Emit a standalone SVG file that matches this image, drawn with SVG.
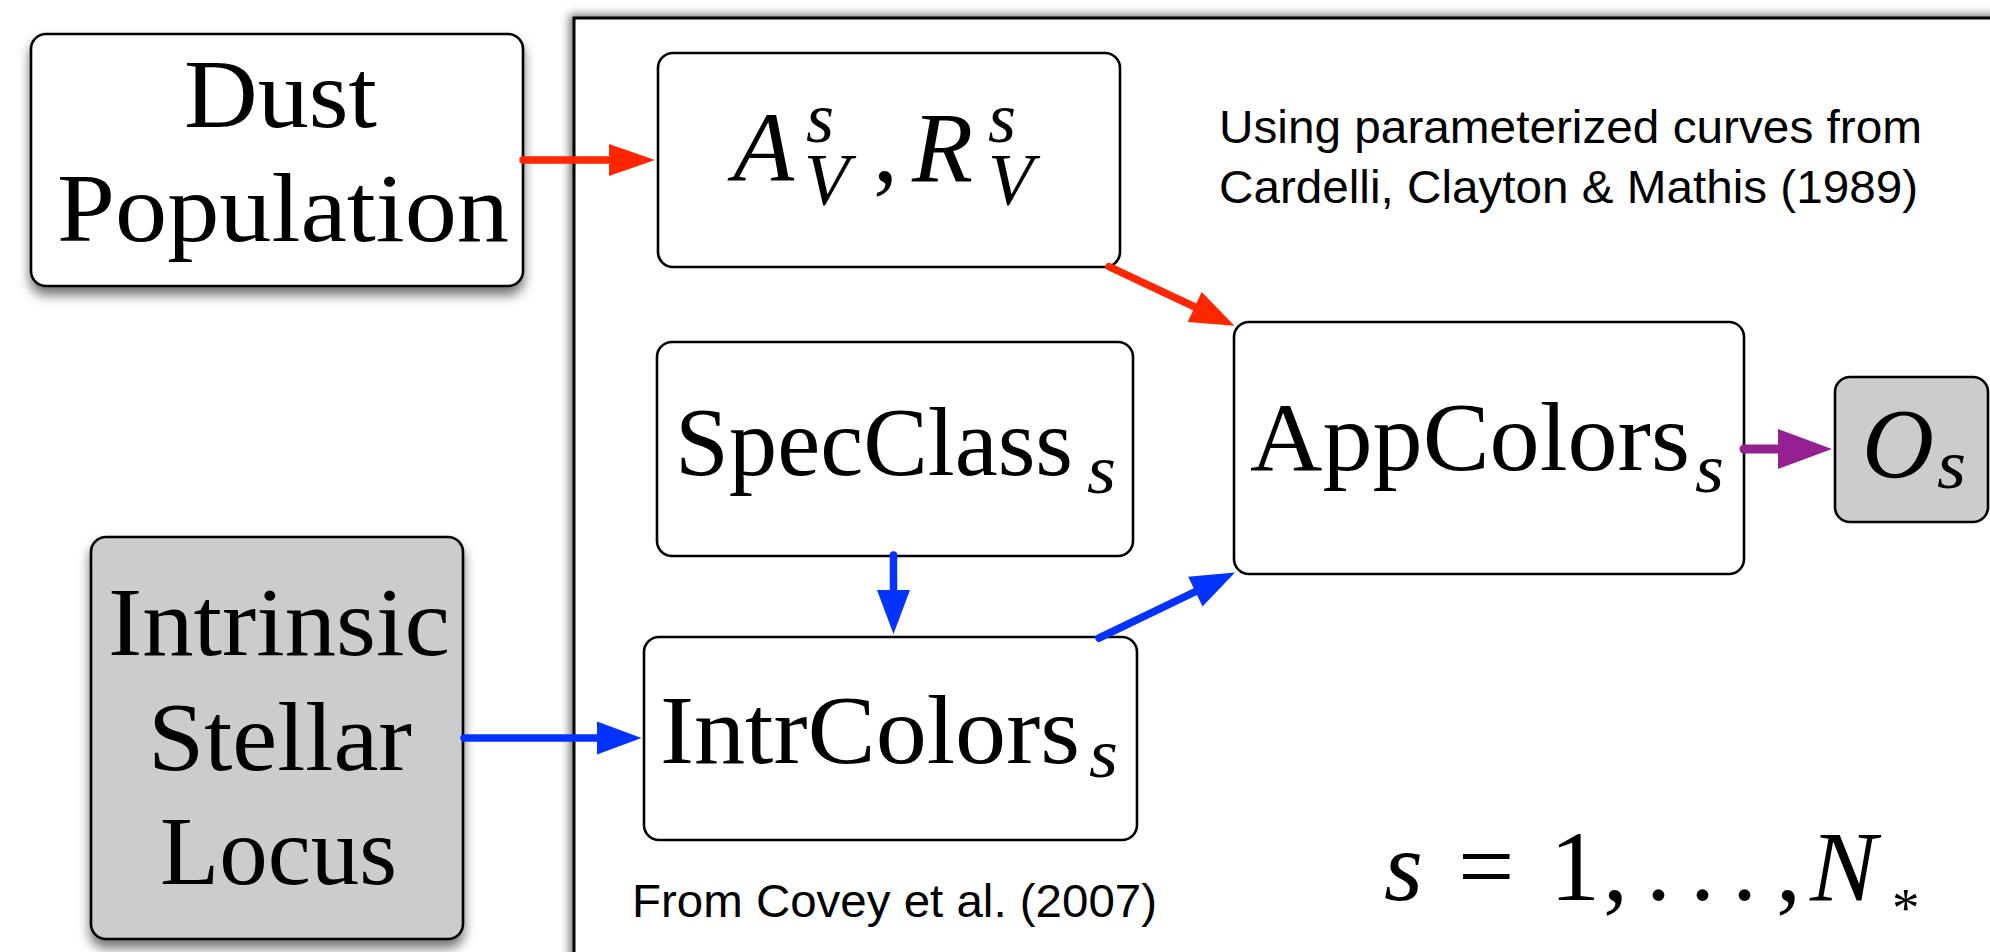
<svg xmlns="http://www.w3.org/2000/svg" width="1990" height="952" viewBox="0 0 1990 952">
<defs>
<filter id="sh" x="-20%" y="-20%" width="140%" height="140%">
<feDropShadow dx="0" dy="8" stdDeviation="6" flood-color="#000" flood-opacity="0.55"/>
</filter>
<filter id="shp" x="-5%" y="-5%" width="110%" height="110%">
<feDropShadow dx="-3" dy="-2" stdDeviation="5" flood-color="#000" flood-opacity="0.55"/>
</filter>
</defs>
<style>
.box{fill:#fff;stroke:#000;stroke-width:2.6}
.gray{fill:#cccccc;stroke:#000;stroke-width:2.6}
.cm{font-family:"Liberation Serif","Times New Roman",serif;font-size:98px;fill:#000}
.mi{font-family:"Liberation Serif","Times New Roman",serif;font-style:italic;fill:#000}
.up{font-style:normal}
.sans{font-family:"Liberation Sans",Arial,sans-serif;font-size:47px;fill:#000}
.red{stroke:#ff2600;fill:none;stroke-width:7.5;stroke-linecap:round}
.blue{stroke:#0433ff;fill:none;stroke-width:7.5;stroke-linecap:round}
.purple{stroke:#942092;fill:none;stroke-width:9;stroke-linecap:round}
</style>
<rect width="1990" height="952" fill="#fff"/>

<g id="plate">
<rect x="574" y="18" width="1500" height="1000" fill="#fff" stroke="#000" stroke-width="3" filter="url(#shp)"/>
<text class="sans" x="1219" y="143" textLength="703" lengthAdjust="spacingAndGlyphs">Using parameterized curves from</text>
<text class="sans" x="1219" y="203" textLength="699" lengthAdjust="spacingAndGlyphs">Cardelli, Clayton &amp; Mathis (1989)</text>
<text class="sans" x="632" y="917" textLength="525" lengthAdjust="spacingAndGlyphs">From Covey et al. (2007)</text>
<text id="plate-label" class="mi" font-size="100"><tspan x="1384" y="900">s</tspan><tspan class="up" x="1458" y="900">=</tspan><tspan class="up" x="1550" y="900">1</tspan><tspan class="up" x="1603" y="900">,</tspan><tspan class="up" x="1646" y="900">.</tspan><tspan class="up" x="1690" y="900">.</tspan><tspan class="up" x="1732" y="900">.</tspan><tspan class="up" x="1776" y="900">,</tspan><tspan x="1810" y="900">N</tspan><tspan class="up" x="1892" y="926" font-size="55">*</tspan></text>
</g>

<g id="dust">
<rect class="box" x="31" y="34" width="492" height="252" rx="15" filter="url(#sh)"/>
<text class="cm" x="184" y="127" textLength="193" lengthAdjust="spacingAndGlyphs">Dust</text>
<text class="cm" x="57" y="241" textLength="452" lengthAdjust="spacingAndGlyphs">Population</text>
</g>

<g id="stellar">
<rect class="gray" x="91" y="537" width="372" height="402" rx="15" filter="url(#sh)"/>
<text class="cm" x="108" y="655" textLength="342" lengthAdjust="spacingAndGlyphs">Intrinsic</text>
<text class="cm" x="148" y="770" textLength="264" lengthAdjust="spacingAndGlyphs">Stellar</text>
<text class="cm" x="160" y="884" textLength="237" lengthAdjust="spacingAndGlyphs">Locus</text>
</g>

<g id="av">
<rect class="box" x="658" y="53" width="462" height="214" rx="15"/>
<text class="mi" font-size="100"><tspan x="733" y="181">A</tspan><tspan x="806" y="142" font-size="72">s</tspan><tspan x="804" y="205" font-size="74">V</tspan><tspan class="up" x="873" y="181">,</tspan><tspan x="912" y="181">R</tspan><tspan x="988" y="142" font-size="72">s</tspan><tspan x="988" y="205" font-size="74">V</tspan></text>
</g>

<g id="specclass">
<rect class="box" x="657" y="342" width="476" height="214" rx="15"/>
<text class="cm" x="675" y="475" textLength="398" lengthAdjust="spacingAndGlyphs">SpecClass</text>
<text class="mi" x="1087" y="493" font-size="70" textLength="29" lengthAdjust="spacingAndGlyphs">s</text>
</g>

<g id="intrcolors">
<rect class="box" x="644" y="637" width="493" height="203" rx="15"/>
<text class="cm" x="660" y="763" textLength="420" lengthAdjust="spacingAndGlyphs">IntrColors</text>
<text class="mi" x="1089" y="777" font-size="70" textLength="29" lengthAdjust="spacingAndGlyphs">s</text>
</g>

<g id="appcolors">
<rect class="box" x="1234" y="322" width="510" height="252" rx="15"/>
<text class="cm" x="1250" y="470" textLength="440" lengthAdjust="spacingAndGlyphs">AppColors</text>
<text class="mi" x="1695" y="492" font-size="70" textLength="29" lengthAdjust="spacingAndGlyphs">s</text>
</g>

<g id="os">
<rect class="gray" x="1835" y="377" width="153" height="145" rx="15"/>
<text class="mi" x="1862" y="477" font-size="100" textLength="72" lengthAdjust="spacingAndGlyphs">O</text>
<text class="mi" x="1937" y="488" font-size="70" textLength="29" lengthAdjust="spacingAndGlyphs">s</text>
</g>

<g id="connectors">
<line class="red" x1="523" y1="160" x2="612" y2="160"/>
<polygon fill="#ff2600" points="609,144 655,160 609,176"/>
<line class="red" x1="1109" y1="266.7" x2="1197" y2="308"/>
<polygon fill="#ff2600" points="1187.7,321.9 1234.5,325.7 1201.7,292.1"/>
<line class="blue" x1="464" y1="738" x2="600" y2="738"/>
<polygon fill="#0433ff" points="597,721.5 641.5,738 597,754.5"/>
<line class="blue" x1="893.5" y1="555" x2="893.5" y2="593"/>
<polygon fill="#0433ff" points="877,590 893.5,634 910,590"/>
<line class="blue" x1="1099" y1="638" x2="1198" y2="590.3"/>
<polygon fill="#0433ff" points="1202.5,606.5 1235,572.5 1188.2,576.7"/>
<line class="purple" x1="1744" y1="449" x2="1781" y2="449"/>
<polygon fill="#942092" points="1778,429 1832,449 1778,469"/>
</g>
</svg>
